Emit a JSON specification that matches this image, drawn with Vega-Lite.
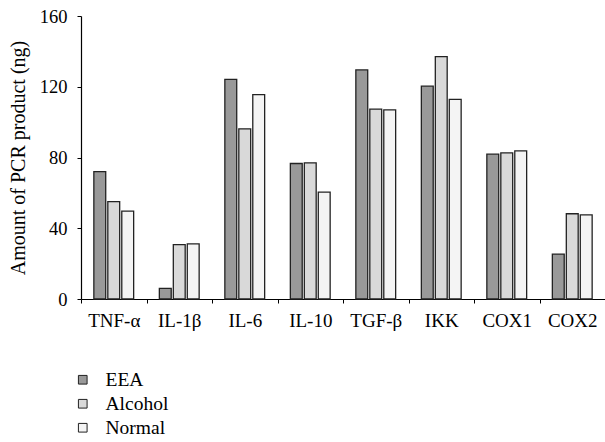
{
  "$schema": "https://vega.github.io/schema/vega-lite/v6.json",
  "width": 524,
  "height": 283,
  "autosize": "none",
  "padding": {"left": 81, "top": 16, "right": 0, "bottom": 143},
  "background": "white",
  "config": {
    "view": {"stroke": null},
    "font": "Liberation Serif",
    "axis": {"labelFont": "Liberation Serif", "titleFont": "Liberation Serif", "labelColor": "black", "titleColor": "black", "domainColor": "black", "tickColor": "black", "grid": false}
  },
  "data": {
    "values": [
      {"gene": "TNF-α", "group": "EEA", "amount": 72},
      {"gene": "TNF-α", "group": "Alcohol", "amount": 55},
      {"gene": "TNF-α", "group": "Normal", "amount": 49.7},
      {"gene": "IL-1β", "group": "EEA", "amount": 6},
      {"gene": "IL-1β", "group": "Alcohol", "amount": 30.7},
      {"gene": "IL-1β", "group": "Normal", "amount": 31.2},
      {"gene": "IL-6", "group": "EEA", "amount": 124.2},
      {"gene": "IL-6", "group": "Alcohol", "amount": 96.2},
      {"gene": "IL-6", "group": "Normal", "amount": 115.6},
      {"gene": "IL-10", "group": "EEA", "amount": 76.6},
      {"gene": "IL-10", "group": "Alcohol", "amount": 77},
      {"gene": "IL-10", "group": "Normal", "amount": 60.4},
      {"gene": "TGF-β", "group": "EEA", "amount": 129.5},
      {"gene": "TGF-β", "group": "Alcohol", "amount": 107.3},
      {"gene": "TGF-β", "group": "Normal", "amount": 106.9},
      {"gene": "IKK", "group": "EEA", "amount": 120.3},
      {"gene": "IKK", "group": "Alcohol", "amount": 137},
      {"gene": "IKK", "group": "Normal", "amount": 112.9},
      {"gene": "COX1", "group": "EEA", "amount": 81.9},
      {"gene": "COX1", "group": "Alcohol", "amount": 82.6},
      {"gene": "COX1", "group": "Normal", "amount": 83.7},
      {"gene": "COX2", "group": "EEA", "amount": 25.4},
      {"gene": "COX2", "group": "Alcohol", "amount": 48.2},
      {"gene": "COX2", "group": "Normal", "amount": 47.6}
    ]
  },
  "mark": {"type": "bar", "stroke": "#222222", "strokeWidth": 1.3},
  "encoding": {
    "x": {
      "field": "gene",
      "type": "nominal",
      "sort": null,
      "title": null,
      "scale": {"padding": 0},
      "axis": {"labelAngle": 0, "labelFontSize": 19, "labelPadding": 8, "tickSize": 4, "tickBand": "extent", "domainWidth": 1.2}
    },
    "xOffset": {
      "field": "group",
      "type": "nominal",
      "sort": ["EEA", "Alcohol", "Normal"],
      "scale": {"paddingInner": 0.15, "paddingOuter": 0.92}
    },
    "y": {
      "field": "amount",
      "type": "quantitative",
      "title": "Amount of PCR product (ng)",
      "scale": {"domain": [0, 160], "nice": false},
      "axis": {"values": [0, 40, 80, 120, 160], "labelFontSize": 18.5, "titleFontSize": 20, "titleFontWeight": "normal", "tickSize": 4, "labelPadding": 10, "titlePadding": 11, "domainWidth": 1.2}
    },
    "fill": {
      "field": "group",
      "type": "nominal",
      "sort": ["EEA", "Alcohol", "Normal"],
      "scale": {"domain": ["EEA", "Alcohol", "Normal"], "range": ["#999999", "#d9d9d9", "#f4f4f4"]},
      "legend": {
        "title": null,
        "orient": "none",
        "legendX": -8,
        "legendY": 354,
        "direction": "vertical",
        "symbolType": "square",
        "symbolSize": 75,
        "symbolStrokeColor": "#222222",
        "symbolStrokeWidth": 1,
        "labelFont": "Liberation Serif",
        "labelFontSize": 19.5,
        "labelColor": "black",
        "rowPadding": 3,
        "labelOffset": 13
      }
    }
  }
}
